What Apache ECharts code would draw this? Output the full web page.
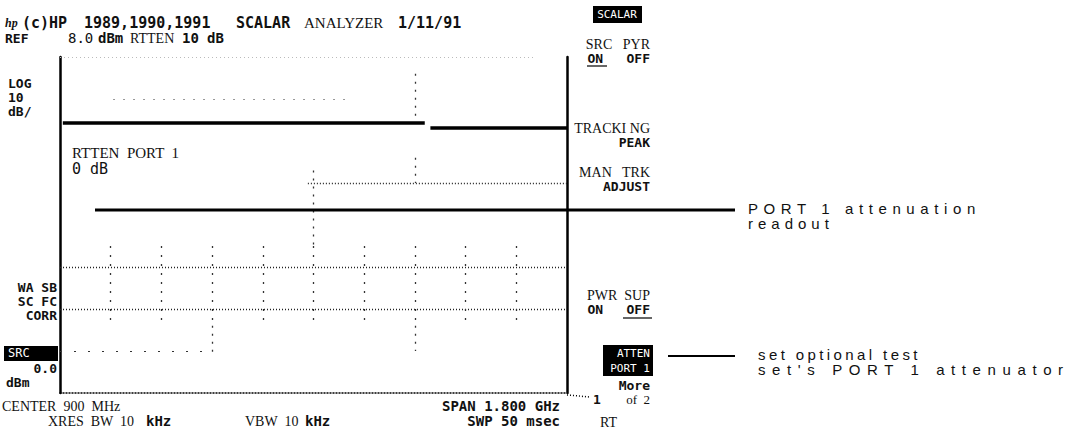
<!DOCTYPE html>
<html>
<head>
<meta charset="utf-8">
<script src="https://cdn.jsdelivr.net/npm/echarts@6/dist/echarts.min.js"></script>
<style>
html,body{margin:0;padding:0;background:#fff;}
#chart{width:1090px;height:431px;}
</style>
</head>
<body>
<div id="chart"></div>
<script>
// ---- data ----
const refLevelDbm = 8.0;
const freqMin = 0, freqMax = 1800;          // CENTER 900 MHz, SPAN 1.800 GHz
const freqTicks = [0, 180, 360, 540, 720, 900, 1080, 1260, 1440, 1620, 1800];
const levelTicks = [0, -10, -20, -30, -40, -50, -60, -70, -80]; // dB below REF, 10 dB/div
const traceFreq = [10, 1295, 1305, 1315, 1800];
const traceLevelDbm = [-7.7, -7.7, null, -8.9, -8.9];

const traceData = traceFreq.map((f, i) =>
  [f, traceLevelDbm[i] === null ? '-' : traceLevelDbm[i] - refLevelDbm]);

// graticule (in axis units)
const gratFull = [-50, -60];
const gratPartial = [
  {from: 190, to: 1030, level: -10},
  {from: 880, to: 1800, level: -30},
  {from: 0, to: 540, level: -70}
];
const gratVert = freqTicks.slice(1, -1);
const gratVertExtra = [
  {freq: 900, from: -27, to: -45},
  {freq: 1260, from: -4, to: -15},
  {freq: 1260, from: -24, to: -30},
  {freq: 1260, from: -64, to: -70},
  {freq: 540, from: -64, to: -71}
];

const MONO = '"DejaVu Sans Mono", monospace';
const SERIF = '"Liberation Serif", "DejaVu Serif", serif';
const SANS = '"Liberation Sans", Arial, sans-serif';

function t(x, y, text, font, size, opts) {
  opts = opts || {};
  return {
    type: 'text', x: x, y: y, silent: true,
    style: {
      text: text, fill: opts.fill || '#111',
      font: (opts.italic ? 'italic ' : '') + (opts.weight || 'bold') + ' ' + size + 'px ' + font,
      textAlign: opts.align || 'left', textVerticalAlign: 'middle'
    }, z: 10
  };
}
function box(x, y, w, h) {
  return {type: 'rect', shape: {x: x, y: y, width: w, height: h}, style: {fill: '#000'}, silent: true, z: 9};
}
function seg(x1, y1, x2, y2, w, dash) {
  return {type: 'line', shape: {x1: x1, y1: y1, x2: x2, y2: y2},
    style: {stroke: '#000', lineWidth: w, lineDash: dash || null}, silent: true, z: 8};
}

const markData = [];
markData.push([{coord: [freqMin, 0], lineStyle: {color: '#bbb', type: [1, 3], width: 1}}, {coord: [1680, 0]}]);
gratFull.forEach(l => markData.push([{coord: [freqMin, l], lineStyle: {color: '#222', type: [1, 2], width: 1.3}}, {coord: [freqMax, l]}]));
markData.push([{coord: [gratPartial[0].from, gratPartial[0].level], lineStyle: {color: '#333', type: [1, 9], width: 1.2}}, {coord: [gratPartial[0].to, gratPartial[0].level]}]);
markData.push([{coord: [gratPartial[1].from, gratPartial[1].level], lineStyle: {color: '#222', type: [1, 2], width: 1.3}}, {coord: [gratPartial[1].to, gratPartial[1].level]}]);
markData.push([{coord: [gratPartial[2].from, gratPartial[2].level], lineStyle: {color: '#333', type: [2, 12], width: 1.2}}, {coord: [gratPartial[2].to, gratPartial[2].level]}]);
gratVert.forEach(f => markData.push([{coord: [f, -45], lineStyle: {color: '#333', type: [2, 7], width: 1.3}}, {coord: [f, -64]}]));
gratVertExtra.forEach(g => markData.push([{coord: [g.freq, g.from], lineStyle: {color: '#333', type: [2, 6], width: 1.3}}, {coord: [g.freq, g.to]}]));

const chart = echarts.init(document.getElementById('chart'), null, {renderer: 'svg'});
chart.setOption({
  animation: false,
  backgroundColor: '#fff',
  grid: {left: 60, right: 523, top: 57, bottom: 38},
  xAxis: {
    type: 'value', min: freqMin, max: freqMax, interval: 180,
    axisLine: {show: true, onZero: false, lineStyle: {color: '#000', width: 1.5, type: [1, 2]}},
    axisTick: {show: false}, axisLabel: {show: false}, splitLine: {show: false}
  },
  yAxis: [{
    type: 'value', min: -80, max: 0, interval: 10, position: 'left',
    axisLine: {show: true, lineStyle: {color: '#000', width: 2.5}},
    axisTick: {show: false}, axisLabel: {show: false}, splitLine: {show: false}
  }, {
    type: 'value', min: -80, max: 0, interval: 10, position: 'right',
    axisLine: {show: true, lineStyle: {color: '#000', width: 2.5}},
    axisTick: {show: false}, axisLabel: {show: false}, splitLine: {show: false}
  }],
  series: [{
    type: 'line', data: traceData, showSymbol: false, connectNulls: false,
    lineStyle: {color: '#000', width: 3.5}, silent: true,
    markLine: {silent: true, symbol: 'none', label: {show: false}, data: markData, animation: false}
  }],
  graphic: [
    // header
    t(5, 23, 'hp', SERIF, 12, {italic: true}),
    t(22, 23, '(c)HP', MONO, 15),
    t(84, 23, '1989,1990,1991', MONO, 15),
    t(236, 23, 'SCALAR', MONO, 15),
    t(304, 23, 'ANALYZER', SERIF, 15, {weight: 'normal'}),
    t(398, 23, '1/11/91', MONO, 15),
    t(5, 38, 'REF', MONO, 13),
    t(68, 38, '8.0', MONO, 14, {weight: 'normal'}),
    t(98, 38, 'dBm', MONO, 14),
    t(130, 38, 'RTTEN', SERIF, 14, {weight: 'normal'}),
    t(182, 38, '10', MONO, 14),
    t(207, 38, 'dB', MONO, 14),
    // left labels
    t(8, 83, 'LOG', MONO, 13), t(8, 97, '10', MONO, 13), t(8, 111, 'dB/', MONO, 13),
    t(57, 287, 'WA SB', MONO, 13, {align: 'right'}),
    t(57, 301, 'SC FC', MONO, 13, {align: 'right'}),
    t(57, 315, 'CORR', MONO, 13, {align: 'right'}),
    box(4, 346, 54, 15), t(8, 353, 'SRC', MONO, 12, {fill: '#fff', weight: 'normal'}),
    t(57, 368, '0.0', MONO, 13, {align: 'right'}),
    t(6, 382, 'dBm', MONO, 13),
    // in-plot readout
    t(72, 153, 'RTTEN  PORT  1', SERIF, 15, {weight: 'normal'}),
    t(72, 169, '0 dB', MONO, 15, {weight: 'normal'}),
    // bottom
    t(2, 406, 'CENTER  900  MHz', SERIF, 14, {weight: 'normal'}),
    t(48, 421, 'XRES  BW  10', SERIF, 14, {weight: 'normal'}),
    t(146, 421, 'kHz', MONO, 14),
    t(245, 421, 'VBW  10', SERIF, 14, {weight: 'normal'}),
    t(305, 421, 'kHz', MONO, 14),
    t(560, 406, 'SPAN 1.800 GHz', MONO, 14, {align: 'right'}),
    t(560, 421, 'SWP 50 msec', MONO, 14, {align: 'right'}),
    seg(567, 395, 590, 397, 1.5, [1, 2]),
    // softkeys
    box(593, 6, 49, 17), t(617, 14, 'SCALAR', MONO, 11, {fill: '#fff', weight: 'normal', align: 'center'}),
    t(650, 44, 'SRC   PYR', SERIF, 14, {weight: 'normal', align: 'right'}),
    t(650, 58, 'ON   OFF', MONO, 13, {align: 'right'}),
    seg(587, 66, 607, 66, 1.2),
    t(650, 128, 'TRACKI NG', SERIF, 14, {weight: 'normal', align: 'right'}),
    t(650, 142, 'PEAK', MONO, 13, {align: 'right'}),
    t(650, 172, 'MAN   TRK', SERIF, 14, {weight: 'normal', align: 'right'}),
    t(650, 186, 'ADJUST', MONO, 13, {align: 'right'}),
    t(650, 295, 'PWR  SUP', SERIF, 14, {weight: 'normal', align: 'right'}),
    t(650, 309, 'ON   OFF', MONO, 13, {align: 'right'}),
    seg(623, 318, 652, 318, 1.2),
    box(603, 345, 50, 31),
    t(650, 353, 'ATTEN', MONO, 11, {fill: '#fff', weight: 'normal', align: 'right'}),
    t(650, 368, 'PORT 1', MONO, 11, {fill: '#fff', weight: 'normal', align: 'right'}),
    t(650, 385, 'More', MONO, 13, {align: 'right'}),
    t(593, 399, '1', MONO, 13),
    t(650, 399, 'of  2', SERIF, 13, {weight: 'normal', align: 'right'}),
    t(600, 422, 'RT', SERIF, 14, {weight: 'normal'}),
    // annotations
    seg(95, 210, 735, 210, 3),
    t(748, 208, 'PORT 1 attenuation', SANS, 15, {weight: 'normal'}),
    t(748, 223, 'readout', SANS, 15, {weight: 'normal'}),
    seg(668, 356, 735, 356, 2),
    t(758, 354, 'set optional test', SANS, 15, {weight: 'normal'}),
    t(758, 369, "set's PORT 1 attenuator", SANS, 15, {weight: 'normal'})
  ]
});

function spaceOut() {
  const spaced = {'PORT 1 attenuation': '5.6px', 'readout': '5px', 'set optional test': '3.4px', "set's PORT 1 attenuator": '6.6px'};
  document.querySelectorAll('#chart svg text').forEach(el => {
    const s = spaced[el.textContent];
    if (s) el.setAttribute('letter-spacing', s);
  });
}
spaceOut();
chart.on('finished', spaceOut);
setTimeout(spaceOut, 50);
</script>
</body>
</html>
